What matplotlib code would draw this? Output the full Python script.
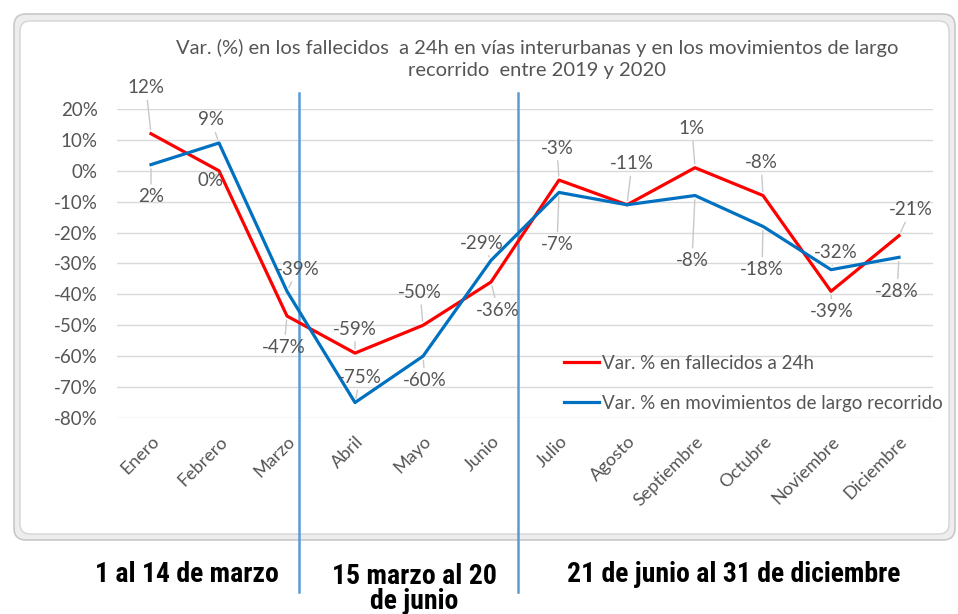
import matplotlib
matplotlib.use("Agg")
import matplotlib.pyplot as plt
from matplotlib.patches import FancyBboxPatch
from matplotlib.ticker import FuncFormatter

# ---------------- data ----------------
meses = ["Enero", "Febrero", "Marzo", "Abril", "Mayo", "Junio", "Julio",
         "Agosto", "Septiembre", "Octubre", "Noviembre", "Diciembre"]
fallecidos = [12, 0, -47, -59, -50, -36, -3, -11, 1, -8, -39, -21]
movimientos = [2, 9, -39, -75, -60, -29, -7, -11, -8, -18, -32, -28]
y_ticks = [20, 10, 0, -10, -20, -30, -40, -50, -60, -70, -80]
serie_labels = ["Var. % en fallecidos a 24h",
                "Var. % en movimientos de largo recorrido"]
titulo = ("Var. (%) en los fallecidos  a 24h en vías interurbanas y en los movimientos de largo\n"
          "recorrido  entre 2019 y 2020")
periodos = ["1 al 14 de marzo", "15 marzo al 20\nde junio",
            "21 de junio al 31 de diciembre"]
cortes = [2.17, 5.40]   # period boundaries on the category axis

# label offsets (pixels) — styling only
off_red = [(-5, 46), (-8, -10), (-3, -31), (0, 24), (-3, 33), (7, -28),
           (-2, 32), (5, 41), (-3, 39), (-2, 33), (1, -20), (12, 26)]
off_blue = [(0, -32), (-8, 23), (11, 22), (5, 25), (2, -24), (-9, 17),
            (-2, -52), None, (-3, -65), (-1, -43), (5, 17), (-2, -34)]

RED = "#ff0000"
BLUE = "#0070c0"
GRAY = "#555555"
FONT = ["Lato", "DejaVu Sans"]
plt.rcParams["font.family"] = FONT
FS = 13.5

W, H = 958, 614
fig = plt.figure(figsize=(W / 100, H / 100), dpi=100)

# chart frame (in inches for isotropic rounding)
outer = FancyBboxPatch((0.14, (H - 540) / 100), 9.41, 5.26,
                       boxstyle="round,pad=0,rounding_size=0.12",
                       transform=fig.dpi_scale_trans, facecolor="#ededed",
                       edgecolor="#c8c8c8", lw=1.2, zorder=-10)
inner = FancyBboxPatch((0.20, (H - 534) / 100), 9.29, 5.13,
                       boxstyle="round,pad=0,rounding_size=0.10",
                       transform=fig.dpi_scale_trans, facecolor="white",
                       edgecolor="#d4d4d4", lw=1.0, zorder=-9)
fig.patches.extend([outer, inner])

ax = fig.add_axes([117 / W, 1 - 418 / H, 816 / W, 309 / H])
ax.set_zorder(1)
ax.set_facecolor("none")
x = list(range(len(meses)))
ax.set_xlim(-0.5, len(meses) - 0.5)
ax.set_ylim(-80, 20)
ax.set_yticks(y_ticks)
ax.yaxis.set_major_formatter(FuncFormatter(lambda v, p: f"{v:.0f}%"))
ax.grid(axis="y", color="#d9d9d9", lw=1)
ax.set_axisbelow(True)
for s in ax.spines.values():
    s.set_visible(False)
ax.tick_params(axis="y", length=0, pad=14, labelsize=FS, labelcolor=GRAY)
ax.tick_params(axis="x", length=0, pad=11, labelsize=13, labelcolor=GRAY)
ax.set_xticks(x)
ax.set_xticklabels(meses, rotation=45, ha="right", rotation_mode="anchor")

l1, = ax.plot(x, fallecidos, color=RED, lw=2.3, zorder=3, label=serie_labels[0])
l2, = ax.plot(x, movimientos, color=BLUE, lw=2.3, zorder=3, label=serie_labels[1])

for xc in cortes:
    ax.axvline(xc, ymin=-0.563, ymax=1.052, color="#5b9bd5", lw=1.8,
               clip_on=False, zorder=2)

def etiquetar(vals, offs):
    for xi, v, o in zip(x, vals, offs):
        if o is None:
            continue
        ax.annotate(f"{v}%", xy=(xi, v), xytext=o, textcoords="offset pixels",
                    ha="center", va="center", fontsize=FS, color=GRAY,
                    annotation_clip=False, zorder=4,
                    arrowprops=dict(arrowstyle="-", color="#c8c8c8", lw=1,
                                    shrinkA=1, shrinkB=3))

etiquetar(fallecidos, off_red)
etiquetar(movimientos, off_blue)

leg = ax.legend(handles=[l1, l2], loc="upper left", frameon=False,
                bbox_to_anchor=(564 / W, 1 - 355 / H),
                bbox_transform=fig.transFigure, borderpad=0, borderaxespad=0,
                handlelength=1.85, handletextpad=0.2, labelspacing=1.2,
                fontsize=FS)
for t in leg.get_texts():
    t.set_color(GRAY)

fig.text(537 / W, 1 - 59 / H, titulo, ha="center", va="center",
         fontsize=14.5, color=GRAY, linespacing=1.3)

BOLD = dict(family=["Roboto Condensed", "Roboto", "DejaVu Sans"],
            fontweight="bold", fontsize=20, color="black")
fig.text(187 / W, 1 - 575 / H, periodos[0], ha="center", va="center", **BOLD)
fig.text(414 / W, 1 - 589 / H, periodos[1], ha="center", va="center",
         linespacing=0.95, **BOLD)
fig.text(734 / W, 1 - 575 / H, periodos[2], ha="center", va="center", **BOLD)

fig.savefig("out.png", dpi=100)
